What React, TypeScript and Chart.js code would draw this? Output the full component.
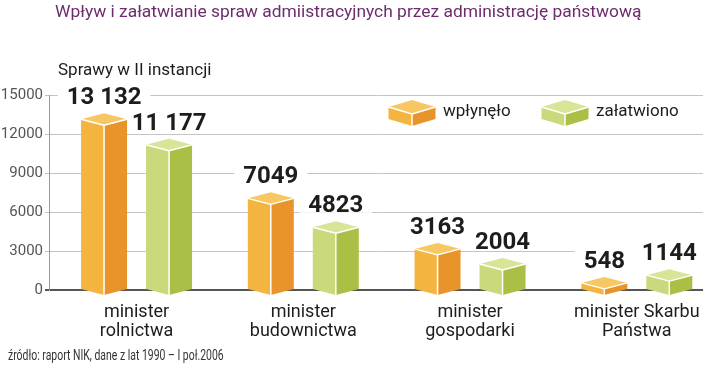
import React, { useEffect, useRef } from 'react';
import { Chart, registerables } from 'chart.js';

Chart.register(...registerables);

const TITLE = 'Wpływ i załatwianie spraw admiistracyjnych przez administrację państwową';
const SUBTITLE = 'Sprawy w II instancji';
const SOURCE = 'źródło: raport NIK, dane z lat 1990 – I poł.2006';
const CATEGORIES: string[][] = [
  ['minister', 'rolnictwa'],
  ['minister', 'budownictwa'],
  ['minister', 'gospodarki'],
  ['minister Skarbu', 'Państwa'],
];
const SERIES_NAMES = ['wpłynęło', 'załatwiono'];
const WPLYNELO = [13132, 7049, 3163, 548];
const ZALATWIONO = [11177, 4823, 2004, 1144];
const Y_TICKS = [0, 3000, 6000, 9000, 12000, 15000];

const PALETTE = [
  { front: '#F3B540', side: '#E8942A', top: '#F7C764' },
  { front: '#C9D97B', side: '#AABF45', top: '#D8E496' },
];

const FONT = 'Roboto, "Noto Sans", sans-serif';
const DEPTH = 6;

function fmt(v: number): string {
  const s = String(v);
  if (v >= 10000) return s.slice(0, s.length - 3) + ' ' + s.slice(s.length - 3);
  return s;
}

function drawBox(
  ctx: CanvasRenderingContext2D,
  cx: number,
  halfW: number,
  yTop: number,
  yBase: number,
  depth: number,
  col: { front: string; side: string; top: string }
) {
  ctx.save();
  ctx.fillStyle = col.front;
  ctx.beginPath();
  ctx.moveTo(cx - halfW, yTop);
  ctx.lineTo(cx, yTop + depth);
  ctx.lineTo(cx, yBase + depth);
  ctx.lineTo(cx - halfW, yBase);
  ctx.closePath();
  ctx.fill();
  ctx.fillStyle = col.side;
  ctx.beginPath();
  ctx.moveTo(cx, yTop + depth);
  ctx.lineTo(cx + halfW, yTop);
  ctx.lineTo(cx + halfW, yBase);
  ctx.lineTo(cx, yBase + depth);
  ctx.closePath();
  ctx.fill();
  ctx.fillStyle = col.top;
  ctx.beginPath();
  ctx.moveTo(cx - halfW, yTop);
  ctx.lineTo(cx, yTop - depth);
  ctx.lineTo(cx + halfW, yTop);
  ctx.lineTo(cx, yTop + depth);
  ctx.closePath();
  ctx.fill();
  ctx.strokeStyle = '#ffffff';
  ctx.lineWidth = 1.5;
  ctx.lineJoin = 'round';
  ctx.beginPath();
  ctx.moveTo(cx - halfW, yTop);
  ctx.lineTo(cx, yTop + depth);
  ctx.lineTo(cx + halfW, yTop);
  ctx.moveTo(cx, yTop + depth);
  ctx.lineTo(cx, yBase + depth);
  ctx.stroke();
  ctx.restore();
}

function forEachBar(chart: any, fn: (p: any, di: number, value: number) => void) {
  chart.data.datasets.forEach((ds: any, di: number) => {
    const meta = chart.getDatasetMeta(di);
    meta.data.forEach((el: any, i: number) => {
      const p = el.getProps(['x', 'y', 'base', 'width'], true);
      fn(p, di, ds.data[i].y);
    });
  });
}

const LABEL_FONT = `bold 24px ${FONT}`;

const boxesPlugin = {
  id: 'boxes3d',
  afterDatasetsDraw(chart: any) {
    const ctx: CanvasRenderingContext2D = chart.ctx;
    ctx.save();
    ctx.font = LABEL_FONT;
    // white plates behind value labels (hide gridlines)
    forEachBar(chart, (p, di, v) => {
      const label = fmt(v);
      const w = ctx.measureText(label).width;
      const by = p.y - DEPTH - 9;
      ctx.fillStyle = '#ffffff';
      ctx.fillRect(p.x - w / 2 - 9, by - 19, w + 18, 19.5);
    });
    // boxes
    forEachBar(chart, (p, di) => {
      drawBox(ctx, p.x, p.width / 2, p.y, p.base, DEPTH, PALETTE[di]);
    });
    // value labels
    ctx.font = LABEL_FONT;
    ctx.textAlign = 'center';
    ctx.textBaseline = 'alphabetic';
    ctx.fillStyle = '#1d1d1b';
    forEachBar(chart, (p, di, v) => {
      ctx.fillText(fmt(v), p.x, p.y - DEPTH - 9);
    });
    ctx.restore();
  },
};

function drawScaledText(ctx: CanvasRenderingContext2D, text: string, x: number, y: number, sx: number) {
  ctx.save();
  ctx.translate(x, y);
  ctx.scale(sx, 1);
  ctx.fillText(text, 0, 0);
  ctx.restore();
}

const textPlugin = {
  id: 'texts',
  afterDraw(chart: any) {
    const ctx: CanvasRenderingContext2D = chart.ctx;
    ctx.save();
    ctx.textAlign = 'left';
    ctx.textBaseline = 'alphabetic';
    ctx.fillStyle = '#6E2C6E';
    ctx.font = `17.4px ${FONT}`;
    ctx.fillText(TITLE, 55, 17);
    ctx.fillStyle = '#1d1d1b';
    ctx.font = `17px ${FONT}`;
    ctx.fillText(SUBTITLE, 58, 75);
    ctx.fillStyle = '#333333';
    ctx.font = `14.5px ${FONT}`;
    drawScaledText(ctx, SOURCE, 8, 360, 0.72);

    // legend
    const legendX = [412, 565];
    SERIES_NAMES.forEach((name, i) => {
      const cx = legendX[i];
      drawBox(ctx, cx, 23.5, 107, 119, 7, PALETTE[i]);
      ctx.fillStyle = '#1d1d1b';
      ctx.font = `17px ${FONT}`;
      ctx.textBaseline = 'middle';
      ctx.fillText(name, cx + 31, 112);
      ctx.textBaseline = 'alphabetic';
    });
    ctx.restore();
  },
};

export default function App() {
  const ref = useRef<HTMLCanvasElement | null>(null);

  useEffect(() => {
    if (!ref.current) return;
    const chart = new Chart(ref.current, {
      type: 'bar',
      data: {
        datasets: [
          {
            label: SERIES_NAMES[0],
            data: WPLYNELO.map((v, i) => ({ x: i, y: v })),
            backgroundColor: 'rgba(0,0,0,0)',
            borderWidth: 0,
          },
          {
            label: SERIES_NAMES[1],
            data: ZALATWIONO.map((v, i) => ({ x: i, y: v })),
            backgroundColor: 'rgba(0,0,0,0)',
            borderWidth: 0,
          },
        ],
      },
      options: {
        responsive: false,
        animation: false,
        categoryPercentage: 0.7796,
        barPercentage: 0.7077,
        layout: { padding: { top: 95, right: 17, left: 0, bottom: 0 } },
        plugins: {
          legend: { display: false },
          tooltip: { enabled: false },
          title: { display: false },
        },
        scales: {
          x: {
            type: 'linear',
            offset: false,
            min: -0.525,
            max: 3.397,
            grid: { display: false, drawTicks: false, offset: false },
            border: { display: false },
            afterBuildTicks: (s: any) => {
              s.ticks = CATEGORIES.map((_, i) => ({ value: i }));
            },
            afterFit: (s: any) => {
              s.height = 76;
            },
            ticks: {
              autoSkip: false,
              maxRotation: 0,
              minRotation: 0,
              padding: 13,
              color: '#1d1d1b',
              font: { family: FONT, size: 18, lineHeight: 1.06 },
              callback: (v: any) => CATEGORIES[v] ?? '',
            },
          },
          y: {
            type: 'linear',
            min: 0,
            max: 15000,
            afterBuildTicks: (s: any) => {
              s.ticks = Y_TICKS.map((v) => ({ value: v }));
            },
            afterFit: (s: any) => {
              s.width = 49;
            },
            grid: {
              color: (c: any) => (c.tick && c.tick.value === 0 ? '#555555' : '#C4C4C4'),
              lineWidth: (c: any) => (c.tick && c.tick.value === 0 ? 2 : 1),
              tickLength: 4,
            },
            border: { display: true, color: '#9A9A9A', width: 1 },
            ticks: {
              padding: 2,
              color: '#555555',
              font: { family: FONT, size: 15 },
              callback: (v: any) => String(v),
            },
          },
        },
      },
      plugins: [boxesPlugin, textPlugin],
    } as any);
    return () => chart.destroy();
  }, []);

  return (
    <div style={{ position: 'absolute', left: 0, top: 0, width: 720, height: 366, background: '#fff' }}>
      <canvas ref={ref} width={720} height={366} style={{ width: 720, height: 366 }} />
    </div>
  );
}
